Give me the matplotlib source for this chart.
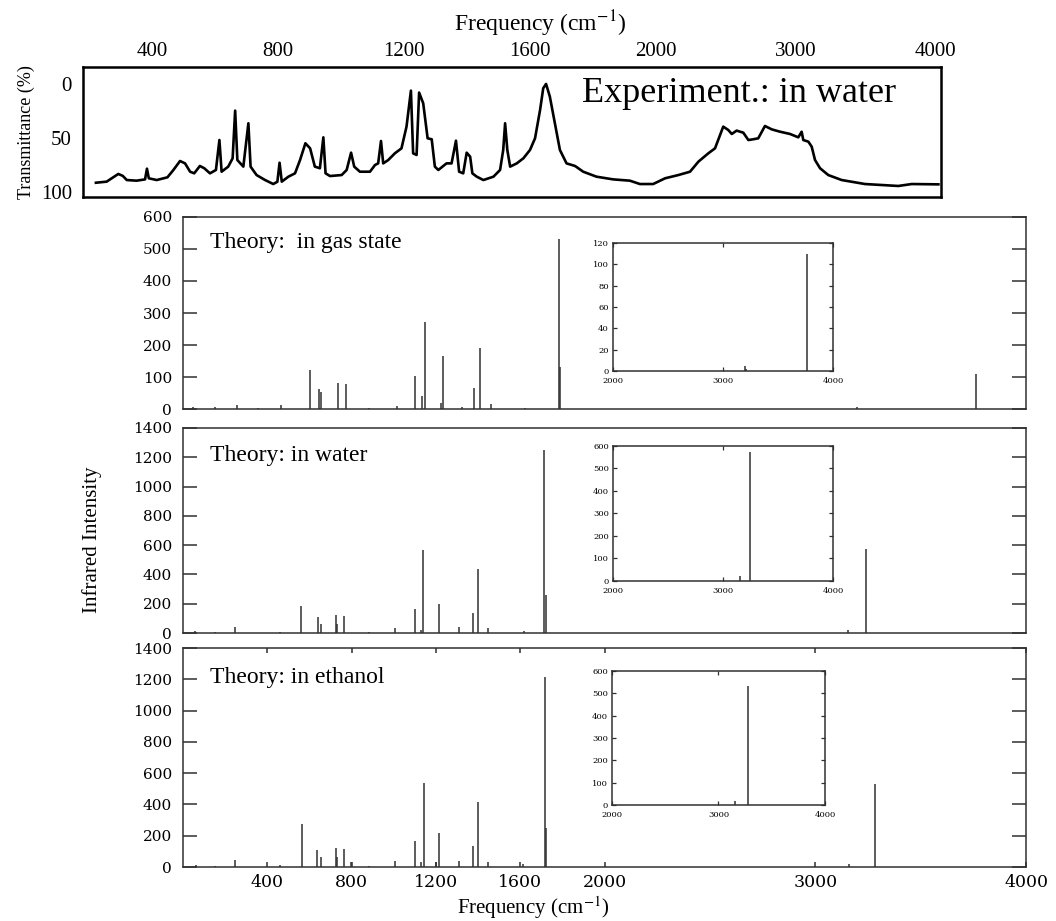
import numpy as np
import matplotlib.pyplot as plt

plt.rcParams['font.family'] = ['Liberation Serif', 'DejaVu Serif']
plt.rcParams['mathtext.fontset'] = 'stix'

# experimental IR spectrum (transmittance %, in water)
exp_freq = [222, 256, 277, 293, 307, 320, 351, 378, 384, 390, 415, 449, 468, 489, 505,
            521, 534, 552, 566, 584, 603, 614, 621, 642, 656, 664, 671, 690, 706, 713,
            732, 759, 785, 798, 805, 812, 833, 854, 870, 887, 902, 917, 933, 944, 951,
            965, 1002, 1018, 1032, 1042, 1060, 1092, 1108, 1118, 1127, 1134, 1150, 1171,
            1192, 1208, 1222, 1229, 1240, 1248, 1261, 1275, 1288, 1298, 1309, 1335, 1351,
            1365, 1375, 1388, 1399, 1410, 1417, 1431, 1452, 1484, 1505, 1515, 1521, 1528,
            1537, 1558, 1579, 1600, 1616, 1632, 1642, 1651, 1663, 1679, 1695, 1716, 1743,
            1769, 1811, 1864, 1917, 1949, 1991, 2065, 2160, 2244, 2304, 2375, 2423, 2459,
            2482, 2518, 2543, 2578, 2626, 2662, 2697, 2733, 2781, 2829, 2889, 2961, 3020,
            3044, 3056, 3092, 3116, 3140, 3176, 3235, 3331, 3498, 3737, 3833, 4024]
exp_trans = [91.4, 90.4, 86.4, 83.3, 85.0, 88.9, 89.5, 88.3, 78.4, 87.3, 88.9, 86.4, 79.6,
             71.3, 73.5, 81.2, 82.7, 75.9, 78.0, 82.7, 79.6, 51.9, 81.2, 76.5, 68.8, 24.7,
             70.4, 76.5, 36.4, 76.5, 84.3, 88.9, 92.6, 90.5, 72.9, 90.4, 85.8, 82.7, 70.4,
             54.9, 59.6, 76.5, 78.0, 49.4, 82.7, 85.2, 84.3, 79.6, 63.6, 76.5, 81.2, 81.2,
             75.0, 73.5, 52.8, 73.5, 70.4, 64.2, 59.6, 39.5, 6.2, 64.2, 65.7, 8.0, 17.9,
             50.3, 51.2, 76.5, 79.6, 73.5, 73.5, 52.5, 81.2, 82.7, 63.6, 67.3, 82.7, 85.8,
             88.9, 85.8, 79.6, 61.1, 36.4, 61.1, 76.5, 73.5, 68.8, 61.1, 50.3, 24.1, 4.0,
             0.0, 11.7, 36.4, 61.1, 73.5, 75.9, 81.2, 85.8, 88.3, 89.5, 92.6, 92.6, 87.3,
             84.3, 81.2, 71.9, 64.2, 59.6, 47.2, 39.5, 42.6, 46.3, 43.2, 45.1, 51.9, 51.2,
             50.3, 38.9, 42.0, 44.2, 46.3, 49.4, 44.2, 51.9, 53.4, 58.0, 70.4, 78.0, 84.3,
             88.9, 92.6, 94.4, 92.6, 92.9]

# theoretical stick spectra
gas_freq = [49, 152, 255, 358, 466, 601, 645, 655, 734, 774, 882, 1016, 1103, 1132, 1146,
            1222, 1235, 1322, 1383, 1408, 1460, 1623, 1785, 1790, 3196, 3212, 3762]
gas_int = [5, 5, 13, 2, 13, 122, 63, 54, 80, 77, 4, 10, 104, 42, 271,
           20, 167, 5, 65, 192, 16, 3, 531, 132, 5, 1.5, 110]

water_freq = [57, 152, 247, 461, 561, 639, 655, 725, 732, 764, 882, 1007, 1099, 1129, 1141,
              1214, 1310, 1375, 1398, 1446, 1616, 1714, 1723, 3156, 3243]
water_int = [11, 7, 41, 9, 185, 110, 64, 123, 64, 114, 9, 37, 164, 23, 564,
             201, 41, 139, 438, 32, 16, 1251, 258, 20, 572]

eth_freq = [62, 152, 247, 461, 566, 637, 653, 725, 731, 764, 799, 882, 1007, 1100, 1129,
            1143, 1199, 1216, 1310, 1376, 1398, 1447, 1612, 1716, 1723, 3160, 3282]
eth_int = [13, 9, 47, 13, 273, 111, 66, 121, 64, 117, 30, 9, 40, 168, 30,
           539, 32, 217, 40, 136, 416, 34, 19, 1212, 249, 17, 531]

top_ticks = [400, 800, 1200, 1600, 2000, 3000, 4000]
bottom_ticks = [400, 800, 1200, 1600, 2000, 3000, 4000]
inset_xticks = [2000, 3000, 4000]


# spectrometer chart: scale changes at 2000 cm-1
def fwd(f):
    f = np.asarray(f, dtype=float)
    return np.where(f <= 2000, (f - 400) * 0.315, 504 + (f - 2000) * 0.1395)


def inv(p):
    p = np.asarray(p, dtype=float)
    return np.where(p <= 504, 400 + p / 0.315, 2000 + (p - 504) / 0.1395)


fig = plt.figure(figsize=(10.56, 9.21), dpi=100)

# --- experiment
ax0 = fig.add_axes([0.0786, 0.7861, 0.8125, 0.1412])
ax0.set_xscale('function', functions=(fwd, inv))
ax0.plot(exp_freq, exp_trans, color='black', lw=1.9)
ax0.set_xlim(181, 4043)
ax0.set_ylim(104.6, -15.7)
ax0.xaxis.tick_top()
ax0.set_xticks(top_ticks)
ax0.set_xticklabels([str(t) for t in top_ticks])
ax0.set_yticks([0, 50, 100])
ax0.tick_params(axis='both', length=0, labelsize=15)
ax0.tick_params(axis='x', pad=4)
ax0.tick_params(axis='y', pad=8)
for s in ax0.spines.values():
    s.set_linewidth(1.8)
ax0.text(0.5816, 0.73, 'Experiment.: in water', transform=ax0.transAxes,
         fontsize=26, va='baseline', ha='left')
ax0.set_ylabel('Transmittance (%)', fontsize=13, labelpad=4)
fig.text(540 / 1056, 1 - 24 / 921, 'Frequency (cm$^{-1}$)', fontsize=17,
         ha='center', va='center')

TICKFONT = 'DejaVu Serif'


def stick_panel(rect, freq, inten, ymax, ystep, title, xt=False):
    ax = fig.add_axes(rect)
    ax.vlines(freq, 0, inten, color='#303030', lw=1.1)
    ax.set_xlim(0, 4000)
    ax.set_ylim(0, ymax)
    yt = np.arange(0, ymax + 1, ystep)
    ax.set_yticks(yt, labels=[str(v) for v in yt], fontfamily=TICKFONT, fontsize=11)
    ax.tick_params(axis='y', direction='in', length=10, width=1.1, color='#303030',
                   right=True, pad=8)
    if xt:
        ax.set_xticks(bottom_ticks, labels=[str(v) for v in bottom_ticks],
                      fontfamily=TICKFONT, fontsize=12.5)
        ax.tick_params(axis='x', direction='in', length=3.5, width=1.1, top=True,
                       color='#303030', pad=5)
    else:
        ax.set_xticks([])
    for s in ax.spines.values():
        s.set_linewidth(1.1)
        s.set_color('#303030')
    ax.text(0.032, 0.84, title, transform=ax.transAxes, fontsize=17, va='baseline')
    return ax


def inset(rect, freq, inten, ymax, ystep):
    ax = fig.add_axes(rect)
    f = np.array(freq)
    v = np.array(inten)
    m = f >= 2000
    ax.vlines(f[m], 0, v[m], color='#303030', lw=1.1)
    ax.set_xlim(2000, 4000)
    ax.set_ylim(0, ymax)
    yt = np.arange(0, ymax + 1, ystep)
    ax.set_xticks(inset_xticks, labels=[str(t) for t in inset_xticks],
                  fontfamily=TICKFONT, fontsize=6)
    ax.set_yticks(yt, labels=[str(t) for t in yt], fontfamily=TICKFONT, fontsize=6)
    ax.tick_params(direction='in', length=3, width=0.9, color='#303030', top=True,
                   right=True)
    ax.tick_params(axis='x', pad=4)
    ax.tick_params(axis='y', pad=3)
    for s in ax.spines.values():
        s.set_linewidth(1.1)
        s.set_color('#303030')
    return ax


stick_panel([0.1733, 0.5559, 0.7983, 0.2085], gas_freq, gas_int, 600, 100,
            'Theory:  in gas state')
inset([0.5805, 0.5972, 0.2083, 0.1390], gas_freq, gas_int, 120, 20)

stick_panel([0.1733, 0.3127, 0.7983, 0.2226], water_freq, water_int, 1400, 200,
            'Theory: in water')
inset([0.5805, 0.3692, 0.2083, 0.1466], water_freq, water_int, 600, 100)

stick_panel([0.1733, 0.0586, 0.7983, 0.2378], eth_freq, eth_int, 1400, 200,
            'Theory: in ethanol', xt=True)
inset([0.5795, 0.1259, 0.2017, 0.1455], eth_freq, eth_int, 600, 100)

fig.text(92 / 1056, 1 - 540 / 921, 'Infrared Intensity', fontsize=15, rotation=90,
         ha='center', va='center')
fig.text(533 / 1056, 1 - 908 / 921, 'Frequency (cm$^{-1}$)', fontsize=15,
         ha='center', va='center')

fig.savefig('out.png', dpi=100)
